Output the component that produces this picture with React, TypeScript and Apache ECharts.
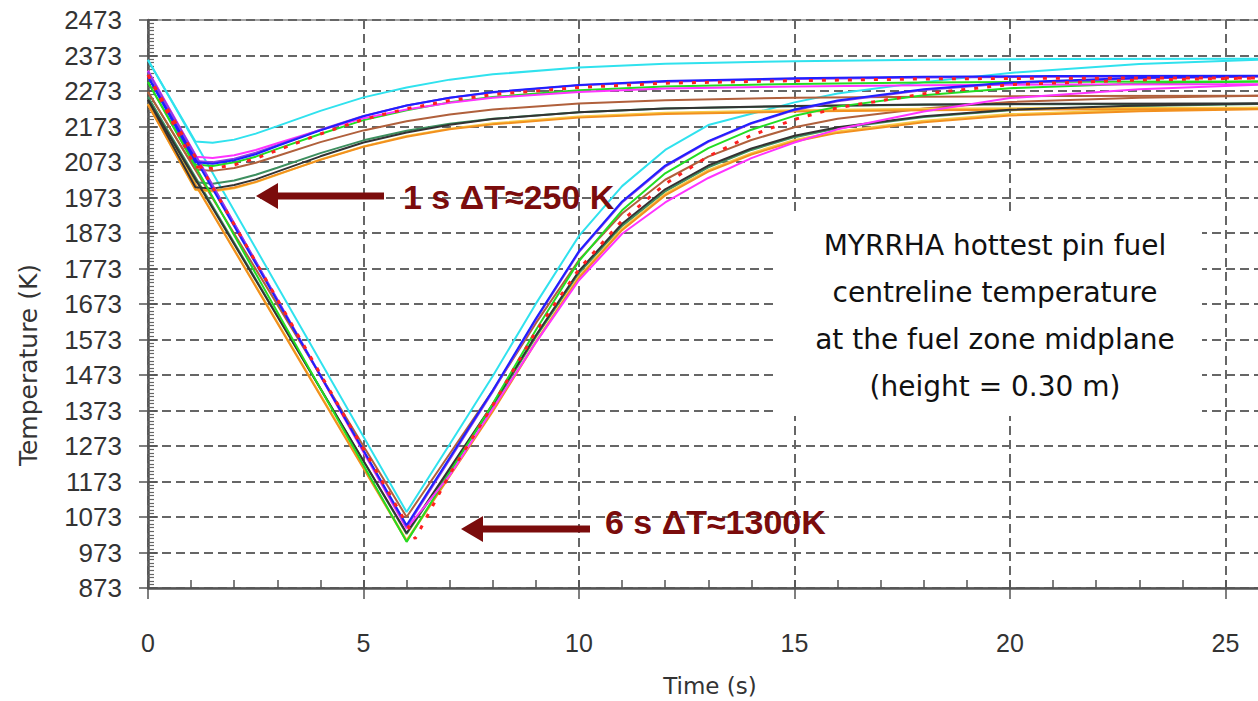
import React, { useEffect, useRef } from 'react';
import * as echarts from 'echarts';

// Time stamps (s)
const timesA = [0, 1.1, 1.5, 2, 2.5, 3, 4, 5, 6, 7, 8, 10, 12, 15, 18, 21, 26];
const timesB = [0, 6, 7, 8, 9, 10, 11, 12, 13, 14, 15, 16, 18, 20, 23, 26];
const timesRedB = [0, 6.2, 7, 8, 9, 10, 11, 12, 13, 14, 15, 16, 18, 20, 23, 26];

// 1 s transient (K)
const cyanA = [2360, 2131, 2127, 2136, 2153, 2174, 2217, 2255, 2283, 2305, 2320, 2339, 2350, 2357, 2361, 2363, 2364];
const blueA = [2313, 2072, 2068, 2078, 2095, 2118, 2162, 2202, 2232, 2254, 2270, 2290, 2301, 2309, 2313, 2315, 2316];
const purpleA = [2327, 2076, 2072, 2082, 2099, 2120, 2164, 2203, 2232, 2254, 2269, 2289, 2299, 2307, 2311, 2313, 2314];
const magentaA = [2330, 2088, 2084, 2092, 2107, 2126, 2163, 2196, 2221, 2240, 2254, 2270, 2280, 2286, 2289, 2291, 2292];
const greenA = [2298, 2066, 2062, 2072, 2088, 2110, 2152, 2191, 2219, 2241, 2256, 2275, 2286, 2293, 2297, 2299, 2300];
const brownA = [2270, 2052, 2048, 2056, 2071, 2090, 2129, 2162, 2188, 2207, 2221, 2238, 2247, 2254, 2257, 2259, 2260];
const seagreenA = [2256, 2016, 2012, 2021, 2037, 2057, 2098, 2134, 2161, 2181, 2195, 2213, 2224, 2230, 2234, 2236, 2237];
const blackA = [2248, 2002, 1998, 2008, 2024, 2046, 2089, 2128, 2156, 2178, 2194, 2213, 2224, 2231, 2235, 2237, 2238];
const goldA = [2236, 1994, 1990, 1999, 2016, 2037, 2080, 2117, 2146, 2167, 2182, 2201, 2212, 2219, 2223, 2225, 2226];
const orangeA = [2234, 1996, 1992, 2001, 2017, 2038, 2079, 2116, 2144, 2165, 2179, 2198, 2208, 2215, 2219, 2221, 2222];
const redA = [2318, 2059, 2055, 2065, 2083, 2106, 2152, 2193, 2223, 2246, 2263, 2283, 2295, 2302, 2307, 2309, 2310];

// 6 s transient (K)
const cyanB = [2360, 1087, 1278, 1470, 1674, 1865, 2005, 2107, 2177, 2209, 2241, 2266, 2298, 2324, 2349, 2362];
const blueB = [2313, 1050, 1240, 1430, 1632, 1822, 1962, 2063, 2132, 2183, 2221, 2246, 2278, 2297, 2310, 2316];
const purpleB = [2327, 1045, 1235, 1426, 1629, 1819, 1959, 2060, 2130, 2181, 2219, 2244, 2276, 2295, 2308, 2314];
const magentaB = [2330, 1040, 1190, 1378, 1565, 1740, 1871, 1959, 2028, 2084, 2128, 2165, 2215, 2253, 2278, 2292];
const greenB = [2298, 1003, 1198, 1392, 1600, 1794, 1937, 2041, 2112, 2164, 2203, 2229, 2261, 2281, 2294, 2300];
const brownB = [2270, 1073, 1251, 1429, 1619, 1797, 1928, 2023, 2088, 2135, 2171, 2195, 2224, 2242, 2254, 2260];
const seagreenB = [2256, 1025, 1205, 1385, 1580, 1760, 1893, 1990, 2058, 2107, 2143, 2168, 2200, 2219, 2231, 2237];
const blackB = [2248, 1028, 1210, 1391, 1585, 1766, 1899, 1996, 2063, 2111, 2147, 2171, 2202, 2220, 2232, 2238];
const goldB = [2236, 1008, 1191, 1373, 1568, 1751, 1885, 1983, 2050, 2098, 2135, 2159, 2189, 2208, 2220, 2226];
const orangeB = [2234, 1005, 1188, 1370, 1565, 1747, 1881, 1979, 2046, 2094, 2131, 2155, 2185, 2204, 2216, 2222];
const redB = [2318, 1012, 1194, 1388, 1596, 1771, 1908, 2011, 2089, 2148, 2193, 2226, 2265, 2291, 2304, 2310];

const defs = [
  { name: 'cyan', color: '#30e2ee', a: cyanA, b: cyanB, tb: timesB },
  { name: 'brown', color: '#b0603c', a: brownA, b: brownB, tb: timesB },
  { name: 'seagreen', color: '#3d8f5f', a: seagreenA, b: seagreenB, tb: timesB },
  { name: 'gold', color: '#f7c846', a: goldA, b: goldB, tb: timesB },
  { name: 'orange', color: '#f2901e', a: orangeA, b: orangeB, tb: timesB },
  { name: 'black', color: '#333333', a: blackA, b: blackB, tb: timesB },
  { name: 'green', color: '#22dd22', a: greenA, b: greenB, tb: timesB },
  { name: 'magenta', color: '#ff33ff', a: magentaA, b: magentaB, tb: timesB },
  { name: 'purple', color: '#8a3ee6', a: purpleA, b: purpleB, tb: timesB },
  { name: 'blue', color: '#1f1fff', a: blueA, b: blueB, tb: timesB },
  { name: 'red', color: '#ff2020', a: redA, b: redB, tb: timesRedB, dotted: true },
];

const annot1 = '1 s ΔT≈250 K';
const annot2 = '6 s ΔT≈1300K';
const boxLines = [
  'MYRRHA hottest pin fuel',
  'centreline temperature',
  'at the fuel zone midplane',
  '(height = 0.30 m)',
];

export default function App() {
  const ref = useRef<HTMLDivElement>(null);
  useEffect(() => {
    const chart = echarts.init(ref.current as HTMLDivElement, null, { renderer: 'svg' });
    const pair = (ts: number[], vs: number[]) => ts.map((t, i) => [t, vs[i]]);
    const series: any[] = [];
    defs.forEach((d: any) => {
      const ls = {
        color: d.color,
        width: d.dotted ? 3 : 2,
        type: d.dotted ? [4, 9] : 'solid',
      };
      series.push({
        type: 'line', name: d.name + ' 1 s', data: pair(timesA, d.a),
        showSymbol: false, symbol: 'none', lineStyle: ls, itemStyle: { color: d.color },
        silent: true, z: d.dotted ? 5 : 3,
      });
      series.push({
        type: 'line', name: d.name + ' 6 s', data: pair(d.tb, d.b),
        showSymbol: false, symbol: 'none', lineStyle: ls, itemStyle: { color: d.color },
        silent: true, z: d.dotted ? 5 : 3,
      });
    });

    const axisCol = '#555';
    const gridLine = { color: '#666', width: 2, type: [9, 5] };
    const dark = '#7b0c0c';

    chart.setOption({
      animation: false,
      backgroundColor: '#ffffff',
      grid: { left: 148, right: 0, top: 20, bottom: 113, show: true, borderColor: '#888', borderWidth: 1.5, backgroundColor: 'transparent' },
      xAxis: [
        {
          type: 'value', min: 0, max: 30, interval: 5, position: 'bottom',
          axisLine: { show: true, onZero: false, lineStyle: { color: axisCol, width: 2.5 } },
          axisTick: { show: true, inside: true, length: 8, lineStyle: { color: axisCol, width: 1.5 } },
          minorTick: { show: true, splitNumber: 5, length: 8, lineStyle: { color: axisCol, width: 1.5 } },
          axisLabel: {
            margin: 42, fontSize: 25, color: '#333', fontFamily: 'Liberation Sans',
            formatter: (v: number) => (v <= 25 ? String(v) : ''),
          },
          splitLine: { show: true, lineStyle: gridLine },
        },
        {
          type: 'value', min: 0, max: 30, interval: 5, position: 'bottom',
          axisLine: { show: false, onZero: false },
          axisTick: { show: true, inside: false, length: 11, lineStyle: { color: axisCol, width: 1.5 } },
          axisLabel: { show: false }, splitLine: { show: false },
        },
      ],
      yAxis: [
        {
          type: 'value', min: 873, max: 2473, interval: 100,
          axisLine: { show: true, onZero: false, lineStyle: { color: axisCol, width: 2.5 } },
          axisTick: { show: true, inside: true, length: 10, lineStyle: { color: axisCol, width: 1.5 } },
          minorTick: { show: true, splitNumber: 10, length: 6, lineStyle: { color: '#666', width: 1.2 } },
          axisLabel: { margin: 26, fontSize: 26, color: '#333', fontFamily: 'Liberation Sans', formatter: (v: number) => String(v) },
          splitLine: { show: true, lineStyle: gridLine },
        },
        {
          type: 'value', min: 873, max: 2473, interval: 100, position: 'left',
          axisLine: { show: false, onZero: false },
          axisTick: { show: true, inside: false, length: 9, lineStyle: { color: axisCol, width: 1.5 } },
          axisLabel: { show: false }, splitLine: { show: false },
        },
      ],
      series,
      graphic: [
        {
          type: 'text', x: 28, y: 365, rotation: Math.PI / 2, z: 100,
          style: { text: 'Temperature (K)', fontSize: 25, fontFamily: 'DejaVu Sans', fill: '#333', align: 'center', verticalAlign: 'middle' },
        },
        {
          type: 'text', x: 710, y: 686, z: 100,
          style: { text: 'Time (s)', fontSize: 23, fontFamily: 'DejaVu Sans', fill: '#333', align: 'center', verticalAlign: 'middle' },
        },
        { type: 'rect', z: 100, shape: { x: 778, y: 214, width: 424, height: 202 }, style: { fill: '#ffffff' } },
        ...boxLines.map((t, i) => ({
          type: 'text', x: 995, y: 245 + i * 47, z: 101,
          style: { text: t, fontSize: 28, fontFamily: 'DejaVu Sans', fill: '#111', align: 'center', verticalAlign: 'middle' },
        })),
        { type: 'line', z: 100, shape: { x1: 272, y1: 196, x2: 384, y2: 196 }, style: { stroke: dark, lineWidth: 7 } },
        { type: 'polygon', z: 100, shape: { points: [[256, 196], [278, 183], [278, 209]] }, style: { fill: dark } },
        {
          type: 'text', x: 403, y: 197, z: 100,
          style: { text: annot1, fontSize: 34, fontWeight: 'bold', fontFamily: 'Liberation Sans', fill: dark, align: 'left', verticalAlign: 'middle' },
        },
        { type: 'line', z: 100, shape: { x1: 476, y1: 529, x2: 590, y2: 529 }, style: { stroke: dark, lineWidth: 7 } },
        { type: 'polygon', z: 100, shape: { points: [[461, 529], [483, 516], [483, 542]] }, style: { fill: dark } },
        {
          type: 'text', x: 605, y: 522, z: 100,
          style: { text: annot2, fontSize: 34, fontWeight: 'bold', fontFamily: 'Liberation Sans', fill: dark, align: 'left', verticalAlign: 'middle' },
        },
      ],
    });
    return () => chart.dispose();
  }, []);
  return (
    <div style={{ position: 'fixed', left: 0, top: 0, width: 1258, height: 701, background: '#fff', overflow: 'hidden' }}>
      <div ref={ref} style={{ width: 1444, height: 701 }} />
    </div>
  );
}
